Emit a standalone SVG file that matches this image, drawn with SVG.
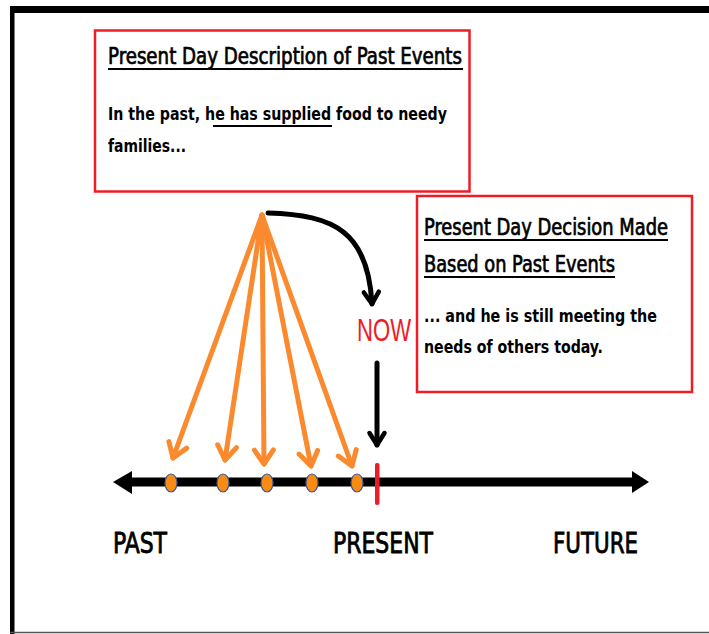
<svg xmlns="http://www.w3.org/2000/svg" width="709" height="634" viewBox="0 0 709 634">
<style>
.box{fill:#fff;stroke:#ee1c25;stroke-width:2.5}
.t{font-family:"DejaVu Sans Condensed","DejaVu Sans","Liberation Sans",sans-serif;fill:#000}
.title{font-size:23px;stroke:#000;stroke-width:0.7}
.body{font-size:18px;font-weight:bold}
.lab{font-size:28px;stroke:#000;stroke-width:0.8}
.ul{stroke:#000;stroke-width:2}
.oa{fill:none;stroke:#fb8a2e;stroke-width:5;stroke-linecap:round}
.ba{fill:none;stroke:#000;stroke-width:5;stroke-linecap:round}
.dot{fill:#f98b12;stroke:#3d5a96;stroke-width:1.2}
</style>
<defs>
<marker id="mo" viewBox="-18 -14 22 28" markerWidth="22" markerHeight="28" refX="0" refY="0" orient="auto" markerUnits="userSpaceOnUse">
<path d="M-14 -9.5 L0 0 L-14 9.5" fill="none" stroke="#fb8a2e" stroke-width="5" stroke-linecap="round" stroke-linejoin="round"/>
</marker>
<marker id="mb" viewBox="-18 -14 22 28" markerWidth="22" markerHeight="28" refX="0" refY="0" orient="auto" markerUnits="userSpaceOnUse">
<path d="M-12 -7.5 L0 0 L-12 7.5" fill="none" stroke="#000" stroke-width="4.5" stroke-linecap="round" stroke-linejoin="round"/>
</marker>
</defs>
<rect width="709" height="634" fill="#fff"/>
<g id="frame">
<rect x="10" y="6" width="699" height="7" fill="#000"/>
<rect x="10" y="6" width="4.5" height="628" fill="#000"/>
<line x1="10" y1="632.5" x2="709" y2="632.5" stroke="#555" stroke-width="1.5"/>
</g>
<g id="box-past">
<rect class="box" x="95" y="30.5" width="374.5" height="161"/>
<text class="t title" x="108" y="64" textLength="354" lengthAdjust="spacingAndGlyphs">Present Day Description of Past Events</text>
<line class="ul" x1="108" y1="69" x2="463" y2="69"/>
<text class="t body" x="108" y="120" textLength="339" lengthAdjust="spacingAndGlyphs">In the past, he has supplied food to needy</text>
<line class="ul" x1="213" y1="126" x2="332" y2="126" stroke-width="1.5"/>
<text class="t body" x="108" y="152" textLength="78" lengthAdjust="spacingAndGlyphs">families...</text>
</g>
<g id="box-present">
<rect class="box" x="417" y="196" width="275" height="196"/>
<text class="t title" x="424" y="235" textLength="244" lengthAdjust="spacingAndGlyphs">Present Day Decision Made</text>
<line class="ul" x1="424" y1="240" x2="668" y2="240"/>
<text class="t title" x="424" y="272" textLength="191" lengthAdjust="spacingAndGlyphs">Based on Past Events</text>
<line class="ul" x1="424" y1="277" x2="615" y2="277"/>
<text class="t body" x="424" y="322" textLength="233" lengthAdjust="spacingAndGlyphs">... and he is still meeting the</text>
<text class="t body" x="424" y="353" textLength="179" lengthAdjust="spacingAndGlyphs">needs of others today.</text>
</g>
<g id="now">
<text x="357" y="341" font-family="'Liberation Sans',sans-serif" font-size="31" fill="#ee1c25" textLength="54" lengthAdjust="spacingAndGlyphs">NOW</text>
</g>
<g id="timeline">
<line x1="128" y1="482" x2="636" y2="482" stroke="#000" stroke-width="9"/>
<polygon points="113,482 132,471 132,494" fill="#000"/>
<polygon points="649,482 632,471 632,493" fill="#000"/>
<ellipse class="dot" cx="171" cy="483" rx="6" ry="9"/>
<ellipse class="dot" cx="223" cy="483" rx="6" ry="9"/>
<ellipse class="dot" cx="267" cy="483" rx="6" ry="9"/>
<ellipse class="dot" cx="312" cy="483" rx="6" ry="9"/>
<ellipse class="dot" cx="357" cy="483" rx="6" ry="9"/>
<rect x="375" y="463" width="4.5" height="42" rx="2" fill="#ee1c25"/>
</g>
<g id="labels">
<text class="t lab" x="113" y="553" textLength="54" lengthAdjust="spacingAndGlyphs">PAST</text>
<text class="t lab" x="333" y="553" textLength="100" lengthAdjust="spacingAndGlyphs">PRESENT</text>
<text class="t lab" x="553" y="553" textLength="85" lengthAdjust="spacingAndGlyphs">FUTURE</text>
</g>
<g id="connectors">
<path class="oa" d="M262 215 L173 458" marker-end="url(#mo)"/>
<path class="oa" d="M262 215 L225 460" marker-end="url(#mo)"/>
<path class="oa" d="M262 215 L264 464" marker-end="url(#mo)"/>
<path class="oa" d="M262 215 L311 466" marker-end="url(#mo)"/>
<path class="oa" d="M262 215 L352 466" marker-end="url(#mo)"/>
<path class="ba" d="M268 213 C335 215 368 232 372 304" marker-end="url(#mb)"/>
<path class="ba" d="M377 363 L377 445" marker-end="url(#mb)"/>
</g>
</svg>
